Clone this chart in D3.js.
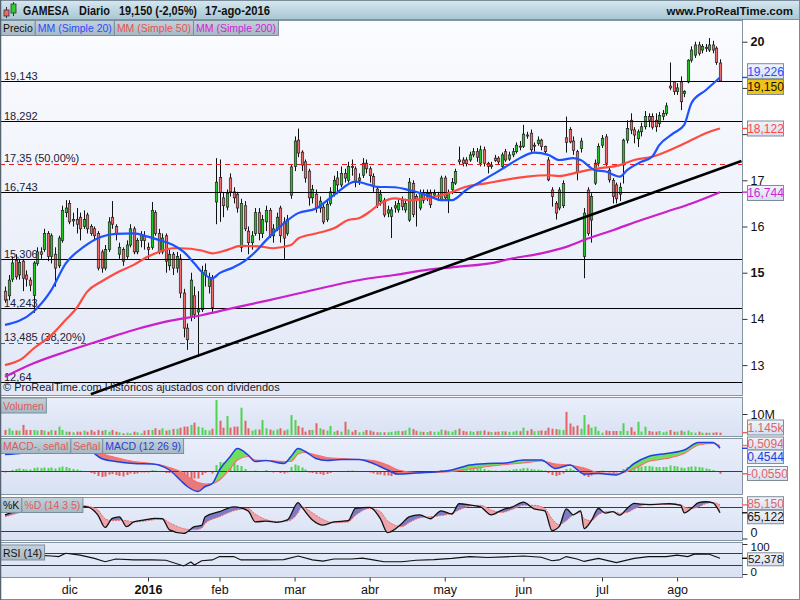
<!DOCTYPE html>
<html><head><meta charset="utf-8">
<script src="https://cdn.jsdelivr.net/npm/d3@7"></script>
<style>
body{margin:0;background:#fff;}
svg{display:block;font-family:"Liberation Sans",Arial,sans-serif;}
</style></head>
<body><svg id="c" width="800" height="600"></svg>
<script>
// ---------------- DATA ----------------
const ticker = "GAMESA", period = "Diario", lastInfo = "19,150 (-2,05%)", lastDate = "17-ago-2016";
const firstDay = "2015-11-05", lastDay = "2016-08-17";
const holidays = ["2015-12-25","2016-01-01","2016-03-25","2016-03-28"];
const monthLabels = ["dic","2016","feb","mar","abr","may","jun","jul","ago"];
const monthKeys = ["2015-12","2016-01","2016-02","2016-03","2016-04","2016-05","2016-06","2016-07","2016-08"];

const open = [14.60,14.50,14.86,15.27,14.95,15.25,14.95,14.84,14.51,15.20,15.45,15.50,15.85,15.35,15.40,15.15,15.70,16.30,16.50,16.12,
16.15,16.20,16.00,16.25,16.00,15.95,15.85,15.45,15.10,15.50,16.20,16.00,15.40,15.50,15.35,15.60,15.95,15.45,15.70,15.80,
15.55,15.55,16.30,15.85,15.45,15.80,15.15,15.40,15.10,15.30,14.56,13.80,14.05,14.50,14.15,14.20,14.95,14.70,14.90,16.53,
17.06,16.62,16.42,17.05,16.75,16.70,15.55,16.45,15.90,15.65,15.85,16.30,15.85,16.10,16.35,15.80,15.95,16.40,16.10,15.85,
16.68,17.30,17.87,17.61,17.40,17.20,16.62,16.70,16.40,16.42,16.15,16.50,16.70,17.05,16.90,17.15,17.00,17.30,17.25,17.00,
17.11,17.37,17.25,17.08,16.81,16.55,16.57,16.29,16.22,16.40,16.36,16.57,16.36,16.14,16.93,16.65,16.40,16.72,16.65,16.72,
16.68,16.65,16.59,17.05,16.57,16.80,16.94,17.44,17.44,17.44,17.44,17.55,17.62,17.37,17.66,17.37,17.30,17.48,17.48,17.30,
17.62,17.46,17.55,17.62,17.74,17.73,17.98,18.02,17.74,17.80,17.87,17.73,17.44,16.79,16.50,16.40,16.45,17.92,18.10,17.85,
17.62,17.69,15.35,16.79,16.14,16.94,17.37,17.76,17.94,17.22,17.00,16.90,16.70,17.33,17.87,18.30,18.09,17.90,18.05,18.16,
18.38,18.38,18.30,18.23,18.38,18.45,19.04,19.13,18.92,19.13,18.88,19.13,19.60,19.71,19.93,19.82,19.88,19.82,19.93,19.86,19.54];
const high = [14.70,14.95,15.35,15.40,15.30,15.30,15.05,14.90,15.25,15.55,15.55,15.95,15.90,15.85,15.55,15.80,16.45,16.57,16.57,16.30,
16.40,16.30,16.35,16.30,16.05,16.00,15.90,15.50,15.60,16.20,16.55,16.05,15.65,15.55,15.70,16.05,16.00,15.75,15.90,15.90,
15.65,16.53,16.35,15.95,15.85,15.85,15.50,15.45,15.45,15.40,14.65,13.90,15.00,14.70,14.60,15.15,15.20,15.00,14.95,17.48,
17.45,16.75,16.80,17.15,16.85,16.75,16.60,16.55,16.00,15.90,16.40,16.40,16.25,16.45,16.40,16.05,16.30,16.45,16.20,16.25,
17.35,17.95,18.12,17.65,17.45,17.25,16.90,16.80,16.65,16.50,16.60,16.85,17.10,17.20,17.30,17.25,17.40,17.45,17.30,17.15,
17.48,17.45,17.30,17.15,16.86,16.79,16.62,16.45,16.42,16.55,16.60,16.65,16.60,17.05,17.00,16.70,16.80,16.80,16.80,16.80,
16.80,16.75,17.10,17.10,16.80,17.05,17.25,17.73,17.50,17.50,17.62,17.70,17.70,17.75,17.73,17.40,17.40,17.55,17.52,17.60,
17.68,17.62,17.70,17.82,17.85,18.20,18.05,18.10,17.82,17.95,17.90,17.75,17.50,16.85,16.55,16.85,17.00,18.38,18.15,17.95,
17.66,17.92,16.40,16.85,16.72,17.45,17.80,17.98,18.00,17.30,17.05,16.95,16.95,17.90,18.30,18.45,18.15,18.10,18.25,18.50,
18.45,18.45,18.45,18.48,18.52,18.68,19.55,19.15,19.10,19.25,18.95,19.62,19.90,20.00,20.00,19.95,19.95,20.08,20.02,19.90,19.62];
const low = [14.35,14.40,14.80,14.85,14.85,14.60,14.70,14.60,14.13,15.15,15.30,15.45,15.25,15.20,14.70,15.10,15.65,16.20,16.05,16.00,
15.85,15.70,15.95,15.85,15.80,15.70,15.05,15.00,15.05,15.45,15.95,15.70,15.30,15.15,15.30,15.55,15.40,15.40,15.55,15.50,
15.30,15.50,15.80,15.40,15.40,15.00,15.05,14.95,15.00,14.45,13.60,13.33,13.95,14.00,13.18,14.15,14.70,14.55,14.15,16.05,
16.10,16.20,16.35,16.65,16.50,16.30,15.45,15.90,15.40,15.50,15.80,15.70,15.75,15.90,15.75,15.65,15.90,15.65,15.30,15.80,
16.60,17.20,17.50,17.20,16.95,16.45,16.50,16.30,16.30,16.05,16.10,16.45,16.65,16.70,16.85,16.95,16.95,17.10,16.85,16.90,
17.05,17.15,16.95,16.75,16.40,16.45,16.20,16.20,15.75,16.30,16.30,16.35,16.30,16.10,16.20,16.00,16.35,16.50,16.55,16.40,
16.60,16.55,16.55,16.55,16.29,16.70,16.90,17.35,17.30,17.30,17.40,17.50,17.40,17.30,17.30,17.15,17.25,17.40,17.35,17.25,
17.40,17.42,17.50,17.58,17.65,17.70,17.90,17.60,17.62,17.75,17.65,17.55,16.98,16.43,16.15,16.35,16.40,17.60,17.80,17.55,
17.00,17.60,14.88,15.80,15.65,16.90,17.30,17.70,17.30,16.95,16.50,16.50,16.55,16.93,17.80,18.00,17.80,17.72,17.95,18.10,
18.15,18.10,18.05,18.15,18.30,18.40,18.95,18.85,18.85,18.52,18.80,19.10,19.55,19.65,19.70,19.75,19.78,19.78,19.75,19.50,19.13];
const close = [14.41,14.84,15.21,14.91,15.22,14.88,14.86,14.73,15.21,15.45,15.40,15.85,15.35,15.80,15.10,15.75,16.35,16.40,16.10,16.15,
16.05,15.95,16.15,15.95,15.85,15.80,15.10,15.10,15.50,16.10,16.05,15.85,15.55,15.25,15.60,15.95,15.45,15.70,15.80,15.70,
15.50,16.35,15.85,15.45,15.75,15.25,15.40,15.10,15.35,14.56,13.80,13.55,14.84,14.10,14.20,15.00,15.05,14.90,14.25,16.96,
16.74,16.45,16.72,16.75,16.62,16.40,16.50,15.95,15.65,15.80,16.30,15.85,16.15,16.35,15.80,15.95,16.20,15.80,15.75,16.15,
17.29,17.85,17.59,17.33,17.05,16.62,16.80,16.40,16.55,16.10,16.48,16.75,17.00,16.90,17.15,17.05,17.30,17.28,16.95,17.05,
17.37,17.25,17.10,16.86,16.47,16.70,16.25,16.36,16.36,16.45,16.50,16.43,16.50,16.96,16.26,16.57,16.72,16.57,16.72,16.47,
16.72,16.68,17.05,16.62,16.72,16.95,17.19,17.40,17.37,17.36,17.55,17.62,17.50,17.66,17.37,17.30,17.33,17.43,17.40,17.55,
17.44,17.55,17.62,17.76,17.73,18.00,17.96,17.66,17.76,17.87,17.73,17.62,17.01,16.65,16.29,16.79,16.93,17.82,17.83,17.65,
17.18,17.85,16.29,15.85,16.65,17.37,17.73,17.91,17.37,17.01,16.65,16.60,16.85,17.87,18.12,18.09,17.98,18.05,18.16,18.38,
18.30,18.15,18.16,18.40,18.45,18.61,19.00,18.92,19.00,18.70,18.92,19.60,19.82,19.93,19.75,19.90,19.85,19.93,19.82,19.55,19.15];
// volume, millions
const volume = [2.4,3.2,2.1,2.1,2.1,4.8,2.4,2.4,2.4,2.1,2.4,2.1,1.6,2.4,2.1,4.0,2.4,1.6,1.6,1.3,
1.6,1.6,2.1,1.6,2.4,1.6,2.4,2.0,2.4,1.6,2.4,1.6,1.3,0.8,1.1,0.8,1.6,1.3,0.8,2.1,
2.4,2.4,3.2,2.4,3.2,2.1,2.4,2.9,2.9,3.5,4.0,4.0,4.8,5.9,4.0,3.5,2.4,2.1,3.0,16.7,
6.8,3.5,9.0,3.5,4.0,4.0,13.0,6.8,3.2,2.1,2.6,2.6,7.1,3.2,2.6,2.1,2.6,3.2,2.1,2.6,
9.5,7.1,4.3,3.5,1.6,2.4,2.4,5.6,3.2,2.6,2.1,4.3,1.6,2.1,1.6,6.3,2.6,1.6,2.4,1.3,
1.6,2.4,2.1,1.6,1.3,1.3,1.3,1.3,1.5,1.8,2.0,1.8,2.2,3.5,2.8,2.0,1.6,1.5,1.4,1.8,
1.5,1.6,2.6,2.2,1.8,1.6,2.4,3.0,2.0,1.6,1.8,1.5,1.8,2.0,2.2,1.6,1.4,1.5,1.6,1.8,
1.7,1.5,1.6,2.0,1.8,3.5,2.0,2.8,1.8,2.0,2.2,2.0,3.5,3.0,2.8,2.6,2.4,11.0,5.5,4.0,
4.5,3.0,9.5,5.0,3.5,4.0,2.0,1.1,2.1,1.9,1.9,1.9,1.9,5.6,1.9,3.7,1.6,6.3,1.6,3.9,
1.9,1.6,1.6,1.9,1.3,1.6,2.4,1.6,1.6,2.1,1.6,2.1,1.3,1.1,1.6,1.1,1.1,1.1,1.1,1.3,1.1];

// moving averages (trading-day index, value)
const ma20Idx = [0,8,13,17,22,27,31,36,40,43,47,50,53,55,58,60,64,67,70,73,78,82,87,92,98,102,104,109,113,118,122,125,129,133,137,140,144,148,152,155,159,161,165,168,172,174,178,181,183,187,190,192,196,200];
const ma20Val = [13.87,14.16,14.63,15.20,15.56,15.78,15.84,15.85,15.78,15.71,15.60,15.45,15.20,15.02,14.88,14.99,15.12,15.25,15.45,15.70,16.07,16.29,16.39,16.68,16.97,16.90,16.86,16.85,16.79,16.68,16.57,16.57,16.79,16.97,17.15,17.29,17.48,17.60,17.55,17.44,17.48,17.44,17.22,17.19,17.08,17.22,17.40,17.51,17.76,18.02,18.20,18.67,18.95,19.226];
const ma50Idx = [0,5,8,13,17,20,23,27,31,36,40,43,47,49,55,58,62,66,71,75,80,82,87,92,96,99,102,105,109,113,118,124,129,135,140,146,152,155,159,163,166,172,176,181,187,192,196,200];
const ma50Val = [13.00,13.15,13.36,13.65,13.98,14.23,14.59,14.81,14.99,15.17,15.35,15.45,15.53,15.53,15.48,15.42,15.49,15.58,15.57,15.53,15.60,15.74,15.85,15.96,16.14,16.18,16.32,16.50,16.61,16.57,16.61,16.72,16.86,16.94,17.01,17.08,17.11,17.09,17.15,17.22,17.26,17.33,17.44,17.51,17.69,17.87,18.02,18.122];
const ma200Idx = [0,8,17,27,36,45,55,64,73,82,102,109,118,127,137,142,150,157,163,170,178,185,192,200];
const ma200Val = [12.75,13.04,13.29,13.54,13.76,13.94,14.08,14.24,14.39,14.55,14.88,14.95,15.06,15.13,15.22,15.31,15.42,15.56,15.74,15.92,16.14,16.32,16.50,16.744];

// support / resistance levels and retracements
const levels = [19.143,18.292,16.743,15.306,14.243,12.64];
const levelLabels = ["19,143","18,292","16,743","15,306","14,243","12,64"];
const fibLevels = [17.35,13.485];
const fibLabels = ["17,35 (50,00%)","13,485 (38,20%)"];
const trendIdx = [24,206], trendVal = [12.37,17.42];

// MACD (12 26 9)
const macdIdx = [0,5,10,15,20,24,27,31,36,41,43,46,49,51,54,56,58,60,63,65,68,70,73,78,80,82,84,87,90,94,99,103,107,110,115,120,125,130,135,140,145,150,154,158,162,166,171,173,176,180,185,190,194,198,200];
const macdVal = [0.33,0.36,0.42,0.48,0.48,0.40,0.25,0.19,0.15,0.14,0.12,0.02,-0.18,-0.31,-0.41,-0.31,-0.25,0.02,0.29,0.45,0.32,0.19,0.21,0.15,0.29,0.45,0.39,0.25,0.21,0.23,0.23,0.15,0.02,-0.06,-0.04,-0.02,0.02,0.12,0.15,0.16,0.22,0.22,0.05,0.12,-0.06,-0.05,-0.08,-0.02,0.15,0.29,0.35,0.42,0.57,0.57,0.4544];
const signalVal = [0.36,0.35,0.37,0.41,0.45,0.44,0.35,0.27,0.19,0.15,0.13,0.07,-0.01,-0.11,-0.23,-0.26,-0.25,-0.18,0.05,0.22,0.29,0.22,0.21,0.19,0.19,0.34,0.37,0.32,0.27,0.25,0.23,0.21,0.12,0.02,-0.03,-0.03,-0.01,0.04,0.09,0.13,0.16,0.20,0.14,0.12,0.06,-0.03,-0.05,-0.03,0.05,0.19,0.25,0.35,0.52,0.55,0.5094];
const macdHist = [-0.03,-0.01,0.02,0.04,0.05,0.04,0.03,0.03,0.06,0.07,0.06,0.07,0.06,0.07,0.05,0.07,0.09,0.08,0.06,0.04,
0.03,0.01,0.00,-0.02,-0.04,-0.06,-0.10,-0.12,-0.11,-0.07,-0.06,-0.08,-0.10,-0.11,-0.08,-0.05,-0.06,-0.05,-0.03,-0.03,
-0.03,0.02,0.01,-0.02,-0.01,-0.04,-0.04,-0.06,-0.05,-0.10,-0.17,-0.21,-0.16,-0.15,-0.15,-0.08,-0.04,-0.02,-0.05,0.12,
0.18,0.17,0.18,0.19,0.16,0.12,0.10,0.04,-0.01,-0.02,0.01,-0.01,0.00,0.02,-0.02,-0.03,-0.02,-0.04,-0.05,-0.03,
0.08,0.13,0.11,0.07,0.03,-0.03,-0.04,-0.06,-0.06,-0.08,-0.06,-0.04,-0.01,-0.01,0.00,-0.01,0.01,0.01,-0.02,-0.01,
0.00,-0.01,-0.03,-0.05,-0.07,-0.07,-0.09,-0.09,-0.10,-0.08,-0.07,-0.06,-0.05,-0.02,-0.03,-0.02,-0.01,-0.01,0.00,-0.01,
0.00,0.00,0.02,0.01,0.01,0.02,0.03,0.06,0.07,0.06,0.06,0.06,0.06,0.06,0.04,0.02,0.01,0.01,0.00,0.01,
0.01,0.02,0.03,0.04,0.04,0.06,0.06,0.04,0.03,0.03,0.02,0.01,-0.04,-0.08,-0.10,-0.08,-0.05,0.04,0.05,0.02,
-0.02,0.00,-0.10,-0.12,-0.09,-0.04,-0.02,0.01,-0.01,-0.03,-0.04,-0.03,-0.02,0.04,0.08,0.10,0.10,0.09,0.09,0.10,
0.10,0.09,0.08,0.08,0.08,0.08,0.11,0.10,0.09,0.07,0.06,0.08,0.09,0.09,0.08,0.07,0.05,0.04,0.02,-0.01,-0.055];

// Stochastic %K / %D (14 3 5)
const stochIdx = [0,5,10,15,18,20,23,26,28,30,32,34,36,39,42,44,46,50,53,55,56,60,64,68,70,73,76,79,82,83,86,89,92,96,98,102,105,107,111,113,116,119,122,125,127,130,133,136,139,142,145,148,151,153,155,157,159,161,162,164,166,168,170,172,174,176,178,180,183,186,189,190,192,194,196,198,200];
const stochK = [60,75,85,90,88,82,80,59,28,51,55,30,42,47,51,50,22,13,30,33,55,68,80,70,42,44,41,47,91,80,47,34,42,45,76,79,50,15,38,55,60,50,70,62,88,85,80,60,72,80,92,75,70,20,30,75,60,70,25,45,76,64,68,59,76,89,87,86,87,88,84,65,76,91,93,90,65.122];
const stochD = [55,68,80,86,88,85,82,72,50,45,46,45,42,44,48,50,40,25,22,26,38,55,70,76,62,48,43,44,65,80,65,48,40,42,58,76,68,45,30,40,52,55,58,64,72,82,84,72,66,74,84,84,76,50,35,45,60,65,50,45,60,68,68,64,66,75,83,87,86,87,86,80,76,80,88,91,85.15];

// RSI (14)
const rsiIdx = [0,3,6,10,13,15,17,21,25,28,31,36,41,45,50,52,53,55,58,60,64,66,69,73,78,82,86,89,92,97,100,103,106,111,115,120,125,130,135,140,145,150,153,155,157,160,162,164,166,171,176,180,185,188,191,193,197,200];
const rsiVal = [52,55,58,62,60,58,69,63,52,41,50,47,47,46,27,40,30,44,47,58,58,47,47,47,48,60,47,43,50,50,53,47,41,41,46,48,52,58,55,57,60,56,44,47,58,50,42,47,52,38,52,58,58,63,58,67,66,52.378];

// ---------------- LAYOUT ----------------
const svg = d3.select("#c");
const N = close.length;
const AX = 742;            // right edge of plotting area
const P = {price:[20,395], vol:[397,436], macd:[438,494], stoch:[497,540], rsi:[542,577]};

// trading days (calendar) -> month tick positions
const days = [];
{ const hol = new Set(holidays); let d = new Date(firstDay+"T00:00:00Z"); const end = new Date(lastDay+"T00:00:00Z");
  while (d <= end) { const s = d.toISOString().slice(0,10), wd = d.getUTCDay();
    if (wd !== 0 && wd !== 6 && !hol.has(s)) days.push(s); d = new Date(d.getTime()+86400000); } }
const monthIdx = monthKeys.map(k => days.findIndex(s => s.startsWith(k)));

const x = d3.scaleLinear().domain([0, N-1]).range([5, 720]);
const yP = d3.scaleLinear().domain([12.353, 20.47]).range([395, 20]);
const yV = d3.scaleLinear().domain([0, 10]).range([435, 414]);
const yM = d3.scaleLinear().domain([0, 1]).range([471, 421]);
const yS = d3.scaleLinear().domain([0, 100]).range([538.5, 499]);
const yR = d3.scaleLinear().domain([0, 100]).range([574, 544]);

const defs = svg.append("defs");
function grad(id, c1, c2){ const g = defs.append("linearGradient").attr("id",id).attr("x1",0).attr("y1",0).attr("x2",0).attr("y2",1);
  g.append("stop").attr("offset","0%").attr("stop-color",c1); g.append("stop").attr("offset","100%").attr("stop-color",c2); }
grad("hdr","#d6e8f0","#a7c5d3");
grad("pbg","#fbfcff","#e2e8f6");
grad("sbg","#e9eefa","#d9e1f3");
grad("lgd","#c3d2dc","#a5b8c4");
grad("vbx","#f1f4fb","#d6def0");
function clip(id, y0, y1){ defs.append("clipPath").attr("id",id).append("rect").attr("x",0.5).attr("y",y0).attr("width",AX-0.5).attr("height",y1-y0); }
clip("cp", ...P.price); clip("cv", ...P.vol); clip("cm", ...P.macd); clip("cs", ...P.stoch); clip("cr", ...P.rsi);

svg.append("rect").attr("width",800).attr("height",600).attr("fill","#fff");
// header
svg.append("rect").attr("x",0).attr("y",0).attr("width",800).attr("height",20).attr("fill","url(#hdr)");
svg.append("line").attr("x1",0).attr("x2",800).attr("y1",19.5).attr("y2",19.5).attr("stroke","#7d94a3");
// icon
svg.append("line").attr("x1",6.5).attr("x2",6.5).attr("y1",7).attr("y2",18).attr("stroke","#333");
svg.append("rect").attr("x",4).attr("y",10).attr("width",5).attr("height",6).attr("fill","#e86a6a").attr("stroke","#333").attr("stroke-width",0.8);
svg.append("line").attr("x1",13.5).attr("x2",13.5).attr("y1",2).attr("y2",16).attr("stroke","#333");
svg.append("rect").attr("x",11).attr("y",4).attr("width",5).attr("height",9).attr("fill","#2fcf2f").attr("stroke","#333").attr("stroke-width",0.8);
const hdr = svg.append("g").attr("font-size",12).attr("font-weight","bold").attr("fill","#111");
[[ticker,23,46],[period,79,31],[lastInfo,119,78],[lastDate,205,65]].forEach(([t,px,w]) =>
  hdr.append("text").attr("x",px).attr("y",15).attr("textLength",w).attr("lengthAdjust","spacingAndGlyphs").text(t));
hdr.append("text").attr("x",793).attr("y",15).attr("text-anchor","end").attr("font-size",11.5).text("www.ProRealTime.com");

// panels
function panel(r, fill){ svg.append("rect").attr("x",0.5).attr("y",r[0]+0.5).attr("width",AX).attr("height",r[1]-r[0]).attr("fill",fill).attr("stroke","#8594a2"); }
panel(P.price,"url(#pbg)"); panel(P.vol,"url(#sbg)"); panel(P.macd,"url(#sbg)"); panel(P.stoch,"url(#sbg)"); panel(P.rsi,"url(#sbg)");

const X = i => Math.round(x(i));

// ---------- price panel ----------
const gp = svg.append("g").attr("clip-path","url(#cp)");
// candles
gp.append("g").selectAll("line").data(d3.range(N)).join("line")
  .attr("x1",i=>X(i)+0.5).attr("x2",i=>X(i)+0.5).attr("y1",i=>yP(high[i])).attr("y2",i=>yP(low[i]))
  .attr("stroke","#111").attr("stroke-width",1);
gp.append("g").selectAll("rect").data(d3.range(N)).join("rect")
  .attr("x",i=>X(i)-0.7).attr("width",2.4)
  .attr("y",i=>yP(Math.max(open[i],close[i])))
  .attr("height",i=>Math.max(1,Math.abs(yP(open[i])-yP(close[i]))))
  .attr("fill",i=>close[i]>=open[i]?"#22c322":"#ee6b6b").attr("stroke","#222").attr("stroke-width",0.7);
// levels
levels.forEach((v,k)=>{
  gp.append("line").attr("x1",0).attr("x2",AX).attr("y1",Math.round(yP(v))+0.5).attr("y2",Math.round(yP(v))+0.5).attr("stroke","#000").attr("stroke-width",1.2);
  gp.append("text").attr("x",4).attr("y",Math.round(yP(v))-1.5).attr("font-size",11).attr("fill","#20203a").text(levelLabels[k]);
});
fibLevels.forEach((v,k)=>{
  gp.append("line").attr("x1",0).attr("x2",AX).attr("y1",Math.round(yP(v))+0.5).attr("y2",Math.round(yP(v))+0.5).attr("stroke","#ee1c1c").attr("stroke-width",1.2).attr("stroke-dasharray","5,4");
  gp.append("text").attr("x",4).attr("y",Math.round(yP(v))-2).attr("font-size",11).attr("fill","#20203a").text(fibLabels[k]);
});
// moving averages
function maLine(idx, val, col){ gp.append("path").datum(idx.map((d,k)=>[d,val[k]]))
  .attr("d", d3.line().x(d=>x(d[0])).y(d=>yP(d[1])).curve(d3.curveMonotoneX))
  .attr("fill","none").attr("stroke",col).attr("stroke-width",2.2); }
maLine(ma200Idx, ma200Val, "#cc1fcc");
maLine(ma50Idx, ma50Val, "#ff4a40");
maLine(ma20Idx, ma20Val, "#1f52ff");
// trend line
gp.append("line").attr("x1",x(trendIdx[0])).attr("x2",x(trendIdx[1])).attr("y1",yP(trendVal[0])).attr("y2",yP(trendVal[1]))
  .attr("stroke","#000").attr("stroke-width",2.6);
svg.append("text").attr("x",3).attr("y",391).attr("font-size",11).attr("fill","#1a1a2a").text("© ProRealTime.com  Históricos ajustados con dividendos");

// ---------- volume ----------
const gv = svg.append("g").attr("clip-path","url(#cv)");
gv.selectAll("rect").data(d3.range(N)).join("rect")
  .attr("x",i=>X(i)-0.5).attr("width",2).attr("y",i=>yV(volume[i])).attr("height",i=>yV(0)-yV(volume[i]))
  .attr("fill",i=>close[i]>=open[i]?"#4fd44f":"#e06464");

// ---------- MACD ----------
const gm = svg.append("g").attr("clip-path","url(#cm)");
function fillBetween(g, idx, a, b, ys, cUp, cDn, top, bot, id){
  const pts = idx.map((d,k)=>({i:d,a:a[k],b:b[k]}));
  const cv = d3.curveMonotoneX;
  defs.append("clipPath").attr("id",id+"u").append("path").attr("d", d3.area().x(p=>x(p.i)).y0(top).y1(p=>ys(p.b)).curve(cv)(pts));
  defs.append("clipPath").attr("id",id+"d").append("path").attr("d", d3.area().x(p=>x(p.i)).y0(bot).y1(p=>ys(p.b)).curve(cv)(pts));
  const ar = d3.area().x(p=>x(p.i)).y0(p=>ys(p.b)).y1(p=>ys(p.a)).curve(cv);
  g.append("path").attr("d",ar(pts)).attr("fill",cUp).attr("clip-path",`url(#${id}u)`);
  g.append("path").attr("d",ar(pts)).attr("fill",cDn).attr("clip-path",`url(#${id}d)`);
  return pts;
}
gm.selectAll("rect").data(d3.range(N)).join("rect")
  .attr("x",i=>X(i)-0.5).attr("width",2)
  .attr("y",i=>Math.min(yM(0),yM(macdHist[i]))).attr("height",i=>Math.max(0.8,Math.abs(yM(macdHist[i])-yM(0))))
  .attr("fill",i=>macdHist[i]>=0?"#4fd44f":"#e45c5c");
fillBetween(gm, macdIdx, macdVal, signalVal, yM, "#6ee05e", "#e77a7a", 430, 500, "mf");
gm.append("line").attr("x1",0).attr("x2",AX).attr("y1",yM(0)+0.5).attr("y2",yM(0)+0.5).attr("stroke","#2a2ad0").attr("stroke-width",1.2);
gm.append("path").datum(macdIdx.map((d,k)=>[d,signalVal[k]])).attr("d",d3.line().x(d=>x(d[0])).y(d=>yM(d[1])).curve(d3.curveMonotoneX))
  .attr("fill","none").attr("stroke","#ff6a6a").attr("stroke-width",1.2);
gm.append("path").datum(macdIdx.map((d,k)=>[d,macdVal[k]])).attr("d",d3.line().x(d=>x(d[0])).y(d=>yM(d[1])).curve(d3.curveMonotoneX))
  .attr("fill","none").attr("stroke","#2040e0").attr("stroke-width",1.5);

// ---------- Stochastic ----------
const gs = svg.append("g").attr("clip-path","url(#cs)");
[80,20].forEach(v=>gs.append("line").attr("x1",0).attr("x2",AX).attr("y1",Math.round(yS(v))+0.5).attr("y2",Math.round(yS(v))+0.5).attr("stroke","#2626d6").attr("stroke-width",1.2));
fillBetween(gs, stochIdx, stochK, stochD, yS, "#7c7cc6", "#eea3aa", 490, 545, "sf");
gs.append("path").datum(stochIdx.map((d,k)=>[d,stochD[k]])).attr("d",d3.line().x(d=>x(d[0])).y(d=>yS(d[1])).curve(d3.curveMonotoneX))
  .attr("fill","none").attr("stroke","#f06b6b").attr("stroke-width",1).attr("stroke-dasharray","2,1");
gs.append("path").datum(stochIdx.map((d,k)=>[d,stochK[k]])).attr("d",d3.line().x(d=>x(d[0])).y(d=>yS(d[1])).curve(d3.curveMonotoneX))
  .attr("fill","none").attr("stroke","#111").attr("stroke-width",1.3);

// ---------- RSI ----------
const gr = svg.append("g").attr("clip-path","url(#cr)");
[70,30].forEach(v=>gr.append("line").attr("x1",0).attr("x2",AX).attr("y1",Math.round(yR(v))+0.5).attr("y2",Math.round(yR(v))+0.5).attr("stroke","#2626d6").attr("stroke-width",1.2));
gr.append("path").datum(rsiIdx.map((d,k)=>[d,rsiVal[k]])).attr("d",d3.line().x(d=>x(d[0])).y(d=>yR(d[1])))
  .attr("fill","none").attr("stroke","#111").attr("stroke-width",1.1);

// ---------- legends ----------
function legend(y, items){
  let px = 0.5;
  items.forEach(([t,c])=>{
    const g = svg.append("g");
    const r = g.append("rect").attr("x",px).attr("y",y).attr("height",15).attr("fill","url(#lgd)").attr("stroke","#7a8f9c");
    const tx = g.append("text").attr("x",px+2.5).attr("y",y+11.5).attr("font-size",10.5).attr("fill",c).text(t);
    const w = tx.node().getComputedTextLength()+5;
    r.attr("width",w); px += w;
  });
}
legend(20.5,[["Precio","#111"],["MM (Simple 20)","#2b4cff"],["MM (Simple 50)","#e8534c"],["MM (Simple 200)","#d41ed4"]]);
legend(398,[["Volumen","#e05a5a"]]);
legend(438.5,[["MACD-, señal","#e05a5a"],["Señal","#e05a5a"],["MACD (12 26 9)","#2b3fd0"]]);
legend(497.5,[["%K","#111"],["%D (14 3 5)","#e05a5a"]]);
legend(545,[["RSI (14)","#111"]]);

// ---------- right axes ----------
const ax = svg.append("g").attr("transform",`translate(${AX+0.5},0)`);
const pa = ax.append("g").call(d3.axisRight(yP).tickValues([13,14,15,16,17,18,19,20]).tickSize(5).tickPadding(3)
  .tickFormat(d => (d===18||d===19) ? "" : d3.format("d")(d)));
pa.select(".domain").remove();
pa.selectAll("text").attr("font-size",12.5).attr("fill","#111").attr("font-family","Liberation Sans, Arial").attr("font-weight",d=>(d===15||d===20)?"bold":"normal");
pa.selectAll("line").attr("stroke","#333");
function subAxis(scale, vals, fmt, shift, fs){
  const a = ax.append("g").call(d3.axisRight(scale).tickValues(vals).tickSize(5).tickPadding(3).tickFormat(fmt));
  a.select(".domain").remove(); a.selectAll("line").attr("stroke","#333");
  a.selectAll("text").attr("font-size",fs||12.5).attr("fill","#111").attr("font-family","Liberation Sans, Arial").attr("dy",(d,k)=>shift[k]);
}
subAxis(yV,[10],()=>"10M",["0.32em"]);
subAxis(yS,[0],()=>"0",["-0.15em"]);
subAxis(yR,[0,100],d3.format("d"),["0.15em","0.55em"],11.5);

function tickMark(y,c){ svg.append("line").attr("x1",AX).attr("x2",AX+6).attr("y1",y).attr("y2",y).attr("stroke",c).attr("stroke-width",1.4); }
function vbox(cy, t, tc, fill, w, h, fs){
  w = w || 36; h = h || 15; fs = fs || 12;
  svg.append("rect").attr("x",747.5).attr("y",cy-h/2).attr("width",w).attr("height",h).attr("fill",fill||"url(#vbx)").attr("stroke","#7f8d9a");
  svg.append("text").attr("x",747.5+w/2).attr("y",cy+fs*0.36).attr("text-anchor","middle").attr("font-size",fs).attr("fill",tc).text(t);
}
tickMark(yP(19.226),"#1f52ff"); tickMark(yP(18.122),"#ff4a40"); tickMark(yP(16.744),"#cc1fcc");
vbox(71.2,"19,226","#2b4cff");
vbox(87,"19,150","#111","#f2c313");
vbox(128.5,"18,122","#ff4a40");
vbox(193,"16,744","#d41ed4");
tickMark(yV(1.145),"#e06464");
vbox(427.5,"1.145k","#e06464");
tickMark(yM(0.5094),"#ff6a6a"); tickMark(yM(0.4544),"#2040e0"); tickMark(yM(-0.055),"#e06464");
vbox(443.5,"0,5094","#e06464",null,36,13);
vbox(456.8,"0,4544","#2040e0",null,36,13.5);
vbox(473.5,"-0,0550","#e06464",null,40,14);
tickMark(yS(85.15),"#f06b6b"); tickMark(yS(65.122),"#111");
vbox(503.2,"85,150","#e06464",null,36,13);
vbox(517,"65,122","#111",null,36,13.5);
tickMark(yR(52.378),"#111");
vbox(559.3,"52,378","#111",null,36,13,11.5);

// ---------- x axis ----------
const xa = svg.append("g").attr("transform","translate(0,577.5)")
  .call(d3.axisBottom(x).tickValues(monthIdx).tickSize(4).tickPadding(4).tickFormat((d,k)=>monthLabels[k]));
xa.select(".domain").remove(); xa.selectAll("line").attr("stroke","#333");
xa.selectAll("text").attr("font-size",12.5).attr("fill","#111").attr("font-family","Liberation Sans, Arial").attr("font-weight",(d,k)=>monthLabels[k]==="2016"?"bold":"normal");

// outer frame
svg.append("rect").attr("x",0.5).attr("y",0.5).attr("width",799).attr("height",599).attr("fill","none").attr("stroke","#7a8c99");
svg.append("line").attr("x1",0.5).attr("x2",0.5).attr("y1",0).attr("y2",600).attr("stroke","#55636e").attr("stroke-width",1.5);
</script></body></html>
